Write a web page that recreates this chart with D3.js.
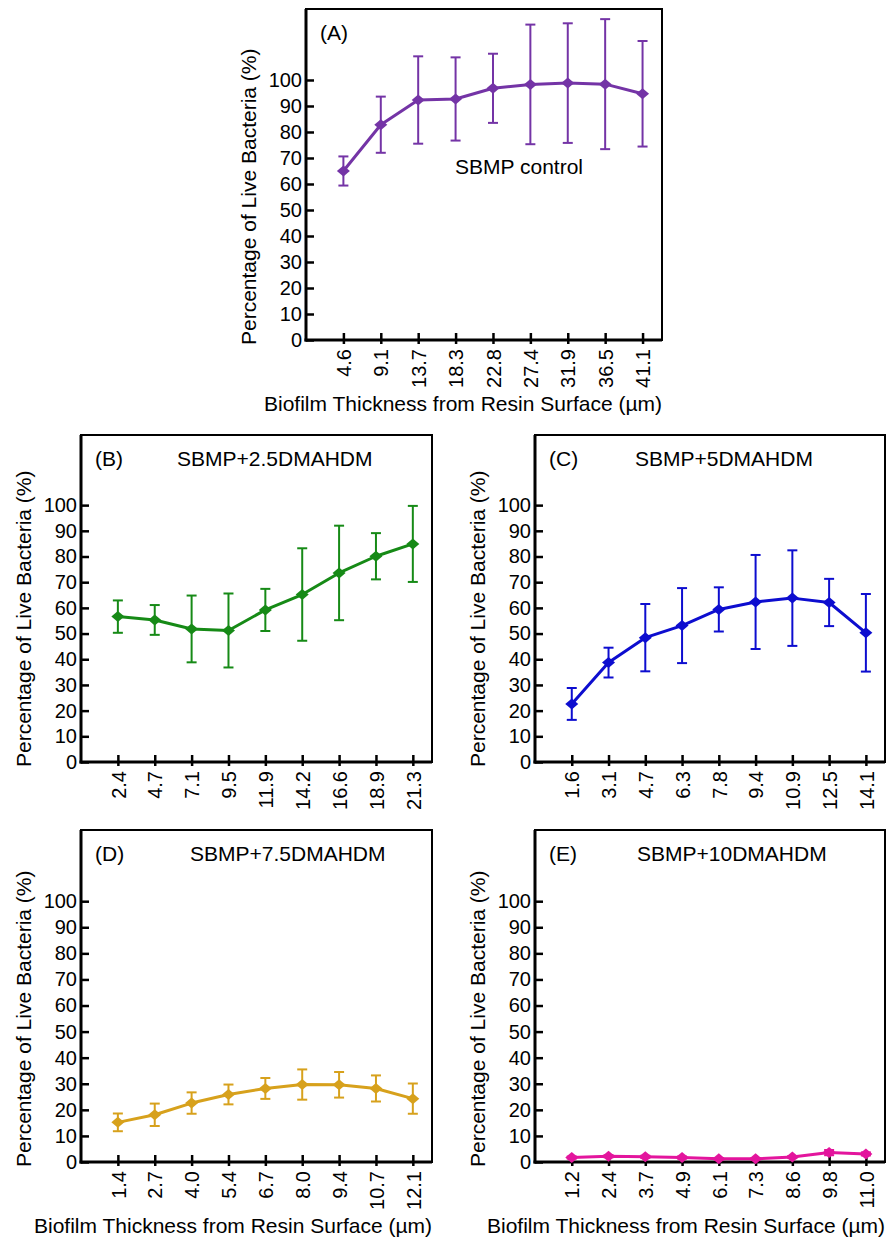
<!DOCTYPE html>
<html>
<head>
<meta charset="utf-8">
<script src="https://cdn.jsdelivr.net/npm/d3@7"></script>
<style>
  body { margin: 0; background: #fff; }
  svg { display: block; font-family: "Liberation Sans", Arial, sans-serif; }
</style>
</head>
<body>
<script>
// thickness labels (µm), mean % live bacteria, standard deviation
const thickA = [4.6, 9.1, 13.7, 18.3, 22.8, 27.4, 31.9, 36.5, 41.1];
const meanA = [65, 82.8, 92.3, 92.7, 96.8, 98.3, 98.8, 98.4, 94.7];
const sdA = [5.6, 10.8, 16.8, 16.0, 13.3, 23.0, 23.0, 25.0, 20.3];

const thickB = [2.4, 4.7, 7.1, 9.5, 11.9, 14.2, 16.6, 18.9, 21.3];
const meanB = [56.6, 55.3, 51.8, 51.2, 59.2, 65.2, 73.6, 80.1, 84.9];
const sdB = [6.3, 5.8, 13.0, 14.4, 8.2, 18.0, 18.4, 9.0, 14.8];

const thickC = [1.6, 3.1, 4.7, 6.3, 7.8, 9.4, 10.9, 12.5, 14.1];
const meanC = [22.6, 38.7, 48.4, 53.1, 59.4, 62.3, 63.8, 62.1, 50.3];
const sdC = [6.2, 5.8, 13.1, 14.6, 8.6, 18.3, 18.6, 9.2, 15.1];

const thickD = [1.4, 2.7, 4.0, 5.4, 6.7, 8.0, 9.4, 10.7, 12.1];
const meanD = [15.2, 18.1, 22.6, 25.9, 28.2, 29.7, 29.6, 28.2, 24.3];
const sdD = [3.4, 4.3, 4.1, 3.8, 4.0, 5.8, 4.9, 5.0, 5.8];

const thickE = [1.2, 2.4, 3.7, 4.9, 6.1, 7.3, 8.6, 9.8, 11.0];
const meanE = [1.7, 2.2, 2.0, 1.7, 1.2, 1.2, 1.9, 3.6, 3.1];
const sdE = [0.4, 0.4, 0.4, 0.4, 0.3, 0.3, 0.4, 1.0, 0.6];

const yTicks = d3.range(0, 101, 10);

const width = 887;
const height = 1239;

// layout: box = [left, top, right, bottom]
const panels = [
  { tag: "(A)", name: "SBMP control", thick: thickA, mean: meanA, sd: sdA, color: "#7434a6",
    box: [306, 9, 662, 340], nameX: 149, nameY: 165, xTitle: true },
  { tag: "(B)", name: "SBMP+2.5DMAHDM", thick: thickB, mean: meanB, sd: sdB, color: "#168a16",
    box: [81, 435, 432, 762], nameX: 96, nameY: 30.5, xTitle: false },
  { tag: "(C)", name: "SBMP+5DMAHDM", thick: thickC, mean: meanC, sd: sdC, color: "#0d0dcf",
    box: [535, 435, 885, 762], nameX: 100, nameY: 30.5, xTitle: false },
  { tag: "(D)", name: "SBMP+7.5DMAHDM", thick: thickD, mean: meanD, sd: sdD, color: "#d7a11c",
    box: [81, 830, 432, 1162], nameX: 109, nameY: 30.5, xTitle: true },
  { tag: "(E)", name: "SBMP+10DMAHDM", thick: thickE, mean: meanE, sd: sdE, color: "#e3159d",
    box: [535, 830, 885, 1162], nameX: 102, nameY: 30.5, xTitle: true },
];

// wide, flat diamond like the original marker
const diamond = {
  draw(ctx, size) {
    const w = 6.5, h = 5.5;
    ctx.moveTo(0, -h);
    ctx.lineTo(w, 0);
    ctx.lineTo(0, h);
    ctx.lineTo(-w, 0);
    ctx.closePath();
  },
};

const svg = d3.select("body").append("svg")
  .attr("width", width)
  .attr("height", height);

for (const p of panels) {
  const [left, top, right, bottom] = p.box;
  const data = p.thick.map((t, i) => ({ i, t, m: p.mean[i], s: p.sd[i] }));

  const x = d3.scaleLinear().domain([0, 9.52]).range([left, right]);
  const y = d3.scaleLinear().domain([0, 127.3]).range([bottom, top]);

  const g = svg.append("g");

  // frame
  g.append("rect")
    .attr("x", left).attr("y", top)
    .attr("width", right - left).attr("height", bottom - top)
    .attr("fill", "none").attr("stroke", "#000").attr("stroke-width", 2);

  // y axis, ticks pointing inward
  const ya = g.append("g")
    .attr("transform", `translate(${left},0)`)
    .call(d3.axisLeft(y).tickValues(yTicks).tickSizeInner(-8).tickSizeOuter(0).tickPadding(4));
  ya.select(".domain").remove();
  ya.selectAll(".tick line").attr("stroke-width", 2.5);
  ya.selectAll(".tick text").attr("font-size", 20).attr("fill", "#000");
  g.append("line")
    .attr("x1", left).attr("x2", left).attr("y1", top).attr("y2", bottom + 1.5)
    .attr("stroke", "#000").attr("stroke-width", 3);

  // x axis
  const xa = g.append("g")
    .attr("transform", `translate(0,${bottom})`)
    .call(d3.axisBottom(x)
      .tickValues(data.map((d) => d.i + 1))
      .tickFormat((v) => p.thick[v - 1].toFixed(1))
      .tickSizeInner(-7).tickSizeOuter(0));
  xa.select(".domain").remove();
  xa.selectAll(".tick line").attr("stroke-width", 2.5).attr("y2", -7).attr("y1", 4);
  xa.selectAll(".tick text")
    .attr("font-size", 20).attr("fill", "#000")
    .attr("transform", "rotate(-90)")
    .attr("text-anchor", "end")
    .attr("x", -9).attr("y", 0).attr("dy", "0.36em");
  g.append("line")
    .attr("x1", left - 1.5).attr("x2", right).attr("y1", bottom).attr("y2", bottom)
    .attr("stroke", "#000").attr("stroke-width", 3);

  // y title
  g.append("text")
    .attr("transform", `translate(${left - 57},${bottom + 5}) rotate(-90)`)
    .attr("dy", "0.35em")
    .attr("font-size", 21).attr("fill", "#000")
    .text("Percentage of Live Bacteria (%)");

  if (p.xTitle) {
    g.append("text")
      .attr("x", right).attr("y", bottom + 70.5)
      .attr("text-anchor", "end")
      .attr("font-size", 21).attr("fill", "#000")
      .text("Biofilm Thickness from Resin Surface (µm)");
  }

  g.append("text")
    .attr("x", left + 14).attr("y", top + 30.5)
    .attr("font-size", 21).attr("fill", "#000")
    .text(p.tag);
  g.append("text")
    .attr("x", left + p.nameX).attr("y", top + p.nameY)
    .attr("font-size", 21).attr("fill", "#000")
    .text(p.name);

  // error bars
  const eb = g.append("g").attr("stroke", p.color).attr("stroke-width", 2).attr("fill", "none");
  eb.selectAll(".v").data(data).join("line")
    .attr("x1", (d) => x(d.i + 1)).attr("x2", (d) => x(d.i + 1))
    .attr("y1", (d) => y(d.m - d.s)).attr("y2", (d) => y(d.m + d.s));
  eb.selectAll(".cap").data(data.flatMap((d) => [[d, d.m - d.s], [d, d.m + d.s]])).join("line")
    .attr("x1", ([d]) => x(d.i + 1) - 5).attr("x2", ([d]) => x(d.i + 1) + 5)
    .attr("y1", ([, v]) => y(v)).attr("y2", ([, v]) => y(v));

  // mean line
  g.append("path")
    .datum(data)
    .attr("fill", "none")
    .attr("stroke", p.color)
    .attr("stroke-width", 3)
    .attr("stroke-linejoin", "round")
    .attr("d", d3.line().x((d) => x(d.i + 1)).y((d) => y(d.m)));

  g.append("g").selectAll("path").data(data).join("path")
    .attr("transform", (d) => `translate(${x(d.i + 1)},${y(d.m)})`)
    .attr("d", d3.symbol(diamond))
    .attr("fill", p.color);
}
</script>
</body>
</html>
